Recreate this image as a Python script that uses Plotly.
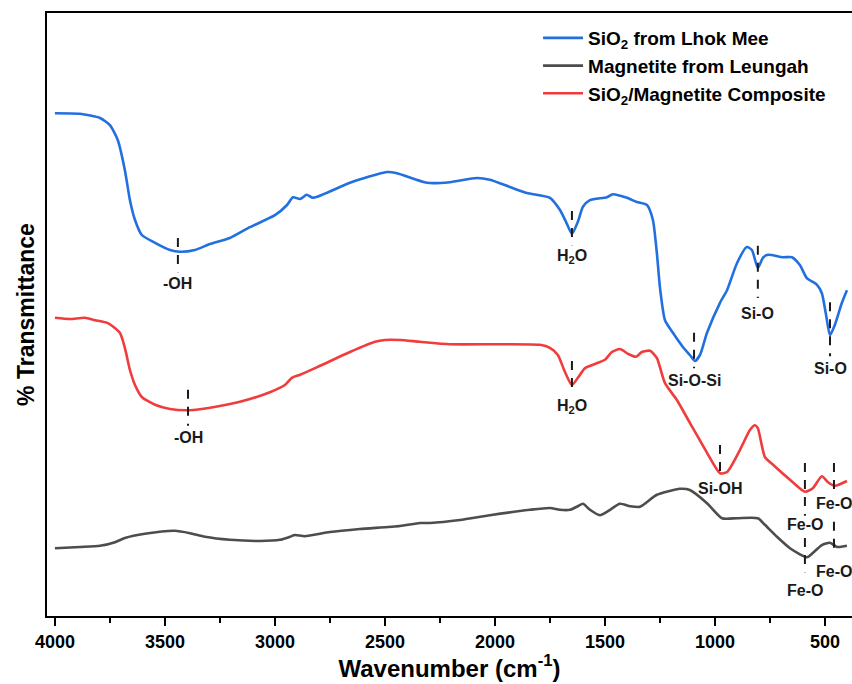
import plotly.graph_objects as go

# ---------------- data ----------------
blue_w = [4000, 3886, 3795, 3750, 3714, 3682, 3659, 3636, 3605, 3545, 3477, 3432, 3364, 3295, 3205,
          3114, 3000, 2945, 2918, 2886, 2855, 2827, 2659, 2491, 2445, 2309, 2205, 2082, 2023, 1932,
          1855, 1750, 1705, 1677, 1650, 1623, 1600, 1568, 1491, 1464, 1400, 1355, 1309, 1282, 1264,
          1250, 1227, 1191, 1145, 1114, 1091, 1068, 1036, 977, 945, 900, 855, 832, 805, 782, 759,
          691, 650, 614, 582, 536, 514, 495, 477, 455, 423, 400]
blue_t = [83.8, 83.7, 83.0, 81.8, 79.3, 74.3, 69.3, 66.0, 63.5, 62.2, 61.0, 60.7, 61.0, 62.0, 63.0,
          64.8, 66.8, 68.5, 69.8, 69.5, 70.2, 69.7, 72.2, 74.0, 73.8, 72.2, 72.3, 73.0, 72.7, 71.5,
          70.5, 69.7, 67.7, 65.7, 63.7, 65.7, 68.2, 69.3, 69.8, 70.3, 69.7, 69.0, 68.5, 66.0, 60.5,
          54.8, 49.3, 47.2, 44.8, 43.5, 42.5, 43.5, 47.2, 52.2, 54.3, 58.8, 61.5, 61.0, 58.0, 59.7, 60.2,
          59.8, 59.8, 58.5, 56.3, 55.2, 53.8, 50.2, 46.8, 48.5, 52.2, 54.3]

red_w = [4000, 3932, 3864, 3818, 3759, 3705, 3682, 3659, 3636, 3605, 3545, 3477, 3386, 3295, 3159,
         3023, 2955, 2923, 2886, 2795, 2659, 2545, 2500, 2432, 2341, 2205, 1977, 1795, 1750, 1714,
         1682, 1650, 1623, 1591, 1545, 1500, 1468, 1432, 1395, 1359, 1332, 1295, 1264, 1227, 1173,
         1114, 1036, 977, 945, 886, 841, 818, 805, 773, 736, 659, 591, 555, 514, 486, 455, 400]
red_t = [49.7, 49.5, 49.7, 49.3, 48.8, 47.2, 44.7, 41.0, 38.5, 36.5, 35.2, 34.5, 34.3, 34.7, 35.7,
         37.3, 38.5, 39.7, 40.2, 41.7, 44.0, 45.7, 46.0, 46.0, 45.7, 45.3, 45.3, 45.2, 44.7, 43.5,
         40.7, 38.5, 39.7, 41.3, 42.0, 42.7, 44.0, 44.5, 43.7, 43.2, 44.0, 44.2, 43.0, 38.8, 36.0,
         32.2, 27.2, 23.8, 24.0, 27.7, 31.0, 31.8, 31.3, 26.5, 25.2, 22.7, 20.7, 21.3, 23.3, 22.3, 21.7, 22.5]

gray_w = [4000, 3886, 3795, 3727, 3682, 3591, 3455, 3386, 3318, 3205, 3068, 2977, 2932, 2909, 2864,
          2750, 2614, 2432, 2341, 2295, 2159, 2023, 1841, 1750, 1705, 1659, 1623, 1600, 1568, 1523,
          1477, 1432, 1386, 1341, 1264, 1159, 1114, 1036, 968, 900, 805, 773, 718, 659, 582, 555,
          514, 477, 445, 400]
gray_t = [11.3, 11.5, 11.7, 12.3, 13.0, 13.7, 14.2, 13.8, 13.2, 12.7, 12.5, 12.7, 13.2, 13.5, 13.3,
          14.0, 14.5, 15.0, 15.5, 15.5, 16.0, 16.8, 17.7, 18.0, 17.7, 17.7, 18.3, 18.7, 17.7, 16.8,
          17.7, 18.7, 18.3, 18.2, 20.2, 21.2, 21.0, 18.8, 16.3, 16.3, 16.3, 15.2, 13.2, 11.3, 9.8, 10.5,
          11.8, 12.2, 11.5, 11.7]

series_names = ["SiO<sub>2</sub> from Lhok Mee", "Magnetite from Leungah", "SiO<sub>2</sub>/Magnetite Composite"]

# peak assignments: label, wavenumber, marker top, marker bottom, label position
peak_labels = ["-OH", "H<sub>2</sub>O", "Si-O-Si", "Si-O", "Si-O",
               "-OH", "H<sub>2</sub>O", "Si-OH", "Fe-O", "Fe-O",
               "Fe-O", "Fe-O"]
peak_w = [3441, 1650, 1095, 805, 477,
          3395, 1650, 977, 591, 459,
          591, 459]
peak_top = [63.0, 67.5, 47.2, 61.7, 52.3,
            37.7, 42.5, 28.5, 25.5, 25.5,
            13.0, 15.7]
peak_bot = [57.3, 61.8, 41.3, 53.0, 43.3,
            31.7, 37.0, 23.3, 16.7, 21.0,
            7.3, 11.2]
peak_lab = [55.5, 60.0, 39.2, 50.5, 41.3,
            29.8, 35.0, 21.2, 15.3, 18.8,
            4.3, 7.5]

x_ticks = [4000, 3500, 3000, 2500, 2000, 1500, 1000, 500]

# ---------------- figure ----------------
FONT = "Liberation Sans, Arial, sans-serif"
fig = go.Figure()
fig.add_trace(go.Scatter(x=blue_w, y=blue_t, mode="lines", name=series_names[0],
                         line=dict(color="#2270E0", width=2.6, shape="spline", smoothing=0.6)))
fig.add_trace(go.Scatter(x=gray_w, y=gray_t, mode="lines", name=series_names[1],
                         line=dict(color="#4D4D4D", width=2.6, shape="spline", smoothing=0.6)))
fig.add_trace(go.Scatter(x=red_w, y=red_t, mode="lines", name=series_names[2],
                         line=dict(color="#F03C3C", width=2.6, shape="spline", smoothing=0.6)))

for lab, w, t0, t1, tl in zip(peak_labels, peak_w, peak_top, peak_bot, peak_lab):
    fig.add_shape(type="line", xref="x", yref="y", x0=w, x1=w, y0=t0, y1=t1,
                  line=dict(color="#1a1a1a", width=2, dash="9px,8px"))
    fig.add_annotation(x=w, y=tl, xref="x", yref="y", text=lab, showarrow=False,
                       yanchor="middle", xanchor="center",
                       font=dict(family=FONT, size=16, color="#1a1a1a", weight="bold"))

fig.update_layout(
    width=852, height=684,
    margin=dict(l=47, r=0, t=13, b=68),
    paper_bgcolor="white", plot_bgcolor="white",
    font=dict(family=FONT, color="black"),
    legend=dict(x=0.610, y=0.99, xanchor="left", yanchor="top",
                bgcolor="rgba(0,0,0,0)", borderwidth=0,
                font=dict(family=FONT, size=19, color="black", weight="bold"),
                tracegroupgap=0, itemwidth=40),
    xaxis=dict(range=[4036, 377], tickvals=x_ticks, ticktext=[str(v) for v in x_ticks],
               ticks="outside", ticklen=8, tickwidth=1.6, tickcolor="black",
               minor=dict(dtick=250, tick0=0, ticks="outside", ticklen=5, tickwidth=1.6, tickcolor="black"),
               showline=True, linecolor="black", linewidth=1.8, mirror=True,
               showgrid=False, zeroline=False,
               tickfont=dict(family=FONT, size=18, color="black", weight="bold"),
               title=dict(text="Wavenumber (cm<sup>-1</sup>)", standoff=5,
                          font=dict(family=FONT, size=24, color="black", weight="bold"))),
    yaxis=dict(range=[0, 100.5], showticklabels=False, ticks="",
               showline=True, linecolor="black", linewidth=1.8, mirror=False,
               showgrid=False, zeroline=False,
               title=dict(text="% Transmittance", standoff=4,
                          font=dict(family=FONT, size=23, color="black", weight="bold"))),
)

fig.write_html("out.html")
